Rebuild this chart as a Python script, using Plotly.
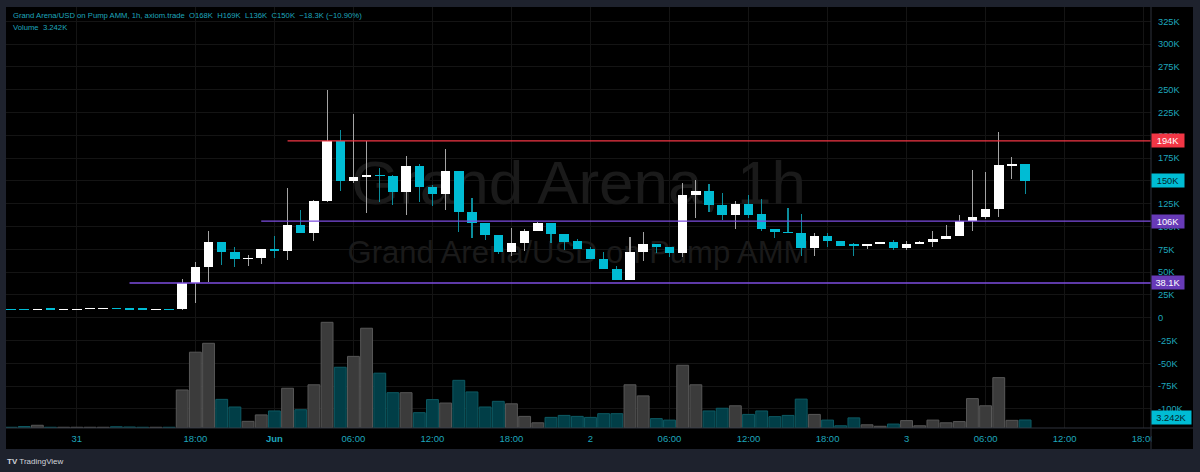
import plotly.graph_objects as go

# ---------------- data (prices and volumes in thousands USD) ----------------
opens = [9.35, 9.3, 8.9, 9.5, 9.25, 9.3, 9.6, 10.1, 10.3, 9.8, 9.5, 9.2, 9.3,
         9.2, 38.6, 55.9, 82.7, 71.7, 64.0, 65.3, 75.0, 73.1, 101.3, 93.2, 127.6,
         193.8, 150.2, 154.3, 156.8, 155.7, 137.5, 166.0, 143.3, 135.3, 160.5,
         116.2, 104.2, 91.0, 71.7, 81.6, 94.7, 103.5, 91.8, 83.8, 75.0, 64.7,
         53.4, 41.3, 72.0, 80.5, 77.9, 71.3, 134.2, 138.6, 123.6, 112.3, 124.3,
         113.4, 96.9, 94.0, 92.5, 76.8, 89.3, 84.1, 80.5, 78.6, 81.1, 82.7, 76.1,
         80.5, 82.7, 86.3, 90.0, 106.0, 110.4, 118.9, 166.6, 168.3]
highs = [9.4, 9.35, 9.5, 9.5, 9.4, 9.5, 10.3, 10.5, 10.3, 9.8, 9.5, 9.4, 9.3,
         42.4, 61.4, 95.4, 82.7, 77.2, 68.8, 75.5, 89.6, 142.5, 118.0, 129.0, 249.7,
         205.8, 223.0, 193.8, 163.8, 156.5, 177.0, 168.2, 145.2, 185.0, 160.5,
         131.6, 104.2, 91.0, 98.0, 96.9, 104.9, 103.5, 91.8, 86.0, 77.9, 72.0,
         56.7, 88.8, 94.0, 80.5, 77.9, 147.4, 151.0, 146.3, 137.0, 128.0, 134.9,
         130.5, 96.9, 120.0, 113.7, 93.2, 92.5, 84.1, 82.2, 81.1, 82.7, 85.5, 84.1,
         84.4, 95.0, 101.6, 112.6, 162.0, 159.8, 203.6, 175.9, 169.0]
lows = [9.2, 9.15, 8.9, 9.3, 9.2, 9.25, 9.5, 10.0, 10.0, 9.6, 9.3, 9.2, 9.2,
        9.0, 16.4, 38.8, 57.8, 55.3, 57.0, 59.2, 65.1, 63.3, 93.2, 84.4, 127.0,
        139.3, 148.0, 115.1, 126.5, 123.6, 112.6, 126.5, 122.8, 118.4, 94.3,
        87.7, 85.2, 69.5, 67.7, 73.5, 94.7, 81.6, 74.2, 75.0, 64.7, 53.4,
        41.3, 41.0, 62.5, 71.3, 66.9, 66.9, 109.0, 116.2, 107.1, 97.3, 109.6,
        95.0, 87.7, 92.5, 67.7, 68.0, 77.5, 78.6, 68.0, 75.0, 81.1, 73.9, 74.6,
        80.5, 77.5, 86.0, 89.6, 94.7, 108.2, 110.1, 152.0, 136.0]
closes = [9.25, 9.2, 9.5, 9.3, 9.35, 9.45, 10.2, 10.4, 10.0, 9.6, 9.3, 9.35, 9.2,
          38.6, 55.9, 82.7, 71.7, 64.0, 65.8, 75.0, 73.1, 101.3, 93.2, 127.6, 193.8,
          150.2, 154.3, 156.8, 155.7, 137.5, 166.0, 143.3, 135.3, 160.5, 116.2,
          104.2, 91.0, 71.7, 81.6, 94.7, 103.5, 91.8, 83.3, 75.0, 64.7, 53.4,
          41.3, 72.0, 80.5, 77.9, 71.3, 134.2, 138.6, 123.6, 112.3, 124.3, 112.3,
          96.9, 93.6, 92.5, 76.8, 89.3, 83.8, 78.6, 79.4, 81.1, 82.7, 76.1, 80.5,
          82.7, 86.3, 90.0, 106.0, 110.4, 118.9, 167.1, 168.3, 150.0]
volumes = [0.3, 0.6, 1.1, 0.3, 0.3, 0.3, 0.3, 0.3, 0.5, 0.4, 0.3, 0.3, 0.3,
           15.4, 30.7, 34.3, 11.6, 8.5, 2.7, 5.3, 6.9, 16.1, 7.4, 17.5, 42.8,
           24.6, 29.0, 40.4, 22.2, 14.3, 14.3, 6.2, 11.5, 10.1, 19.3,
           14.6, 8.5, 10.8, 9.8, 4.7, 2.1, 4.3, 5.1, 4.7, 4.3, 5.8,
           5.8, 17.5, 13.0, 3.8, 3.2, 25.4, 17.5, 6.9, 8.0, 9.0, 5.5,
           6.9, 4.6, 5.1, 11.7, 5.5, 3.2, 0.9, 4.1, 1.3, 0.7, 1.6, 3.0,
           0.9, 3.2, 2.1, 2.6, 11.9, 9.0, 20.4, 3.1, 3.242]

tick_idx = [5, 14, 20, 26, 32, 38, 44, 50, 56, 62, 68, 74, 80, 86]
tick_text = ['31', '18:00', '<b>Jun</b>', '06:00', '12:00', '18:00', '2',
             '06:00', '12:00', '18:00', '3', '06:00', '12:00', '18:00']

price_ticks = list(range(-100, 326, 25))
price_tick_text = ['0' if v == 0 else f'{v}K' for v in price_ticks]

# horizontal rays: (price, start bar, colour, label)
rays_price = [194, 106, 38.1]
rays_start = [21, 19, 9]
rays_color = ['#f23645', '#7c4ddf', '#7c4ddf']
rays_label = ['194K', '106K', '38.1K']
rays_box = ['#f23645', '#673ab7', '#673ab7']

last_price = 150.0
last_volume = 3.242

# ---------------- styling constants ----------------
W, H = 1200, 472
PL, PR, PT, PB = 6, 1151, 7, 428          # pane in pixels
AXR, AXB = 1193, 449                       # axis panel outer edges
X_RANGE = [-0.38, 86.56]
Y_RANGE = [-120.9, 340.7]
VOL_RANGE = [0, 170.5]
UP, DOWN = '#ffffff', '#00bcd4'
UP_WICK, DOWN_WICK = '#a4a4a4', '#0b8d9c'
VOL_UP, VOL_UP_LINE = '#3b3b3b', '#575757'
VOL_DN, VOL_DN_LINE = '#013e47', '#0d5a63'
TXT = '#1ea6bc'
GRID = '#141414'
OUTER = '#1e222d'
SEP = '#2f333d'
WATERMARK = '#1a1a1a'
FONT = 'Liberation Sans, Arial, sans-serif'


def px_x(px):
    return (px - PL) / (PR - PL)


def px_y(py):
    return (PB - py) / (PB - PT)


n = len(opens)
idx = list(range(n))
is_up = [c >= o for o, c in zip(opens, closes)]
MIN_BODY = 1.5
body_base, body_h = [], []
for o, c in zip(opens, closes):
    h = abs(c - o)
    lo = min(o, c)
    if h < MIN_BODY:
        lo -= (MIN_BODY - h) / 2
        h = MIN_BODY
    body_base.append(lo)
    body_h.append(h)

fig = go.Figure()

# watermark (main subplot, drawn beneath the overlaid candle / volume subplots)
xc = (X_RANGE[0] + X_RANGE[1]) / 2
fig.add_trace(go.Scatter(
    x=[xc, xc], y=[142.0, 68.0], mode='text',
    text=['Grand Arena, 1h', 'Grand Arena/USD on Pump AMM'],
    textfont=dict(size=[62, 31], color=WATERMARK, family=FONT),
    textposition='middle center', hoverinfo='skip', showlegend=False,
    xaxis='x', yaxis='y'))

# volume
fig.add_trace(go.Bar(
    x=idx, y=volumes, width=0.9,
    marker=dict(color=[VOL_UP if u else VOL_DN for u in is_up],
                line=dict(color=[VOL_UP_LINE if u else VOL_DN_LINE for u in is_up], width=1)),
    hoverinfo='skip', showlegend=False, xaxis='x', yaxis='y2'))

# wicks
fig.add_trace(go.Bar(
    x=idx, y=[h - l for h, l in zip(highs, lows)], base=lows, width=0.085,
    marker=dict(color=[UP_WICK if u else DOWN_WICK for u in is_up], line=dict(width=0)),
    hoverinfo='skip', showlegend=False, xaxis='x', yaxis='y3'))

# bodies
fig.add_trace(go.Bar(
    x=idx, y=body_h, base=body_base, width=0.72,
    marker=dict(color=[UP if u else DOWN for u in is_up], line=dict(width=0)),
    hoverinfo='skip', showlegend=False, xaxis='x', yaxis='y3'))

# horizontal rays
for p, s, col in zip(rays_price, rays_start, rays_color):
    fig.add_trace(go.Scatter(
        x=[s, X_RANGE[1]], y=[p, p], mode='lines',
        line=dict(color=col, width=1.3), hoverinfo='skip', showlegend=False,
        xaxis='x', yaxis='y3'))

shapes = [
    # axis panels (black)
    dict(type='rect', xref='paper', yref='paper', x0=px_x(PR), x1=px_x(AXR),
         y0=px_y(AXB), y1=px_y(PT), fillcolor='#000000', line=dict(width=0), layer='below'),
    dict(type='rect', xref='paper', yref='paper', x0=px_x(PL), x1=px_x(PR),
         y0=px_y(AXB), y1=px_y(PB), fillcolor='#000000', line=dict(width=0), layer='below'),
    # corner cover (clips the last time label)
    dict(type='rect', xref='paper', yref='paper', x0=px_x(PR) + 0.0004, x1=px_x(AXR),
         y0=px_y(AXB), y1=px_y(PB) - 0.001, fillcolor='#000000', line=dict(width=0), layer='above'),
    # separators
    dict(type='line', xref='paper', yref='paper', x0=px_x(PR), x1=px_x(PR),
         y0=px_y(AXB), y1=px_y(PT), line=dict(color=SEP, width=1), layer='above'),
    dict(type='line', xref='paper', yref='paper', x0=px_x(PL), x1=px_x(AXR),
         y0=px_y(PB), y1=px_y(PB), line=dict(color=SEP, width=1), layer='above'),
]

annotations = [
    dict(xref='paper', yref='paper', x=px_x(11), y=px_y(15.5), xanchor='left', yanchor='middle',
         showarrow=False, font=dict(size=7.7, color=TXT, family=FONT),
         text='Grand Arena/USD on Pump AMM, 1h, axiom.trade\u00a0\u00a0O168K\u00a0\u00a0H169K'
              '\u00a0\u00a0L136K\u00a0\u00a0C150K\u00a0\u00a0\u221218.3K (\u221210.90%)'),
    dict(xref='paper', yref='paper', x=px_x(11), y=px_y(27), xanchor='left', yanchor='middle',
         showarrow=False, font=dict(size=7.7, color=TXT, family=FONT),
         text=f'Volume\u00a0\u00a0{last_volume:.3f}K'),
    dict(xref='paper', yref='paper', x=px_x(5), y=px_y(461), xanchor='left', yanchor='middle',
         showarrow=False, font=dict(size=8, color='#d1d4dc', family=FONT),
         text='<b>TV</b> TradingView'),
]
for p, lab, col in zip(rays_price, rays_label, rays_box):
    annotations.append(dict(
        xref='paper', yref='y3', x=px_x(PR), y=p, xanchor='left', yanchor='middle',
        showarrow=False, text=lab, bgcolor=col, width=29, borderpad=1.5, align='center',
        font=dict(size=9.3, color='#ffffff', family=FONT)))
annotations.append(dict(
    xref='paper', yref='y3', x=px_x(PR), y=last_price, xanchor='left', yanchor='middle',
    showarrow=False, text=f'{last_price:.0f}K', bgcolor=DOWN, width=29, borderpad=1.5,
    align='center', font=dict(size=9.3, color='#04252a', family=FONT)))
annotations.append(dict(
    xref='paper', yref='y2', x=px_x(PR), y=last_volume, xanchor='left', yanchor='middle',
    yshift=2, showarrow=False, text=f'{last_volume:.3f}K', bgcolor=DOWN, width=36,
    borderpad=1.5, align='center', font=dict(size=9.3, color='#04252a', family=FONT)))

fig.update_layout(
    width=W, height=H,
    margin=dict(l=PL, r=W - PR, t=PT, b=H - PB, autoexpand=False),
    paper_bgcolor=OUTER, plot_bgcolor='#000000',
    barmode='overlay', bargap=0, showlegend=False, hovermode=False,
    font=dict(family=FONT, color=TXT),
    xaxis=dict(range=X_RANGE, tickvals=tick_idx, ticktext=tick_text, showgrid=True,
               gridcolor=GRID, gridwidth=1, zeroline=False, showline=False, ticks='',
               tickfont=dict(size=9.5, color=TXT), ticklabelstandoff=3, fixedrange=True),
    yaxis=dict(range=Y_RANGE, side='right', tickvals=price_ticks, ticktext=price_tick_text,
               showgrid=True, gridcolor=GRID, gridwidth=1, zeroline=False, showline=False,
               ticks='', tickfont=dict(size=9.3, color=TXT), ticklabelstandoff=6,
               fixedrange=True),
    yaxis2=dict(range=VOL_RANGE, overlaying='y', visible=False, fixedrange=True),
    yaxis3=dict(range=Y_RANGE, overlaying='y', visible=False, fixedrange=True),
    shapes=shapes, annotations=annotations,
)

fig.write_html('out.html', config=dict(displayModeBar=False, staticPlot=True))
